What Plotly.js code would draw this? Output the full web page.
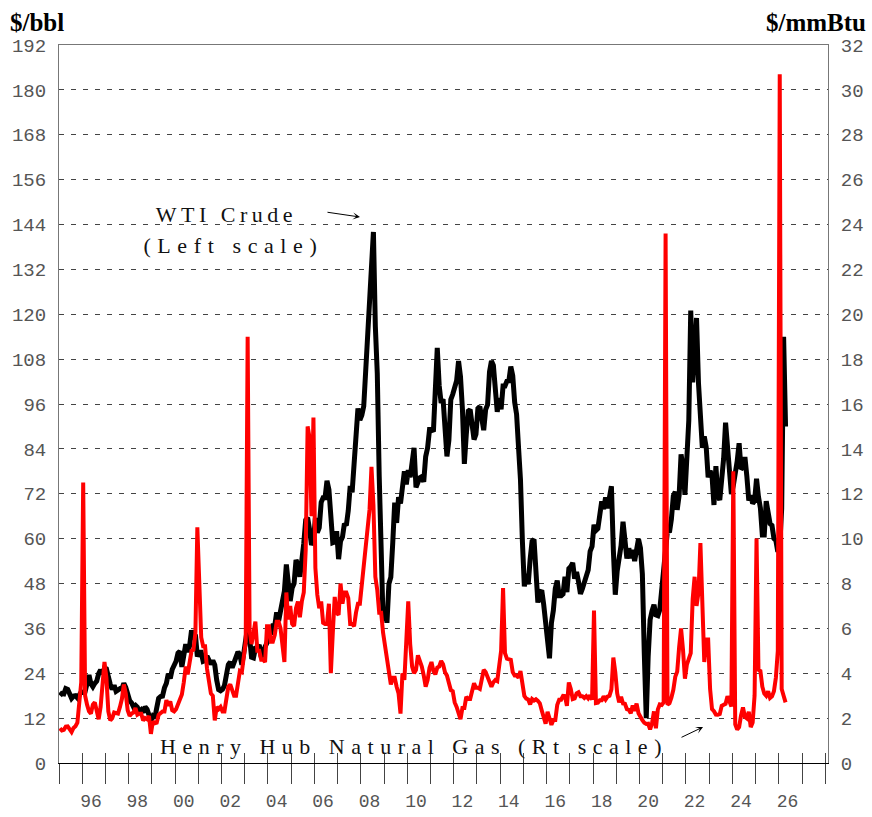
<!DOCTYPE html>
<html><head><meta charset="utf-8">
<script src="https://cdn.plot.ly/plotly-3.0.1.min.js"></script>
<style>html,body{margin:0;padding:0;background:#fff}</style>
</head><body>
<div id="chart" style="width:872px;height:817px"></div>
<script>
// Monthly series starting January 1995
const startYear = 1995;

// WTI crude, $/bbl (left scale)
const wti = [
 18.0,18.6,18.5,19.9,19.7,18.4,17.3,17.9,18.0,17.4,18.0,19.0, // 1995
 18.9,19.1,21.3,23.5,21.2,20.4,21.3,21.9,23.9,24.9,23.7,25.4, // 1996
 25.2,22.2,21.0,19.7,20.8,19.2,19.6,19.9,19.8,21.3,20.2,18.3, // 1997
 16.7,16.1,15.0,15.4,14.9,13.7,14.2,13.5,15.0,14.4,12.9,11.3, // 1998
 12.5,12.0,14.7,17.3,17.8,17.9,20.1,21.3,23.9,22.6,25.0,26.1, // 1999
 27.2,29.4,29.9,25.7,28.8,31.8,29.7,31.3,35.5,33.1,34.4,28.5, // 2000
 29.6,29.6,27.2,27.4,28.6,27.6,26.4,27.4,26.2,22.2,19.6,19.3, // 2001
 19.7,20.7,24.4,26.3,27.0,25.5,26.9,28.4,29.7,28.9,26.3,29.4, // 2002
 32.9,36.5,33.6,28.3,28.1,30.7,30.8,31.6,28.3,30.3,31.1,32.1, // 2003
 34.3,34.7,36.7,36.7,40.3,38.0,40.7,44.9,46.0,53.1,48.5,43.3, // 2004
 46.8,48.0,54.3,53.0,49.8,56.3,58.7,65.0,65.6,62.4,58.3,59.4, // 2005
 65.5,61.6,62.9,69.7,70.9,70.9,75.5,73.1,63.8,58.9,59.1,62.0, // 2006
 54.5,59.3,60.4,64.0,63.5,67.5,74.1,72.4,79.9,85.8,94.8,91.7, // 2007
 93.0,95.4,105.5,112.6,125.4,134.5,142.0,116.7,104.1,76.6,57.3,38.0, // 2008
 41.7,37.5,47.9,49.7,59.0,69.6,64.2,71.1,69.4,75.7,78.0,74.5, // 2009
 78.3,76.4,81.2,84.3,73.7,75.3,76.3,76.6,75.2,81.9,84.3,89.2, // 2010
 89.2,88.6,102.9,111.0,100.9,96.3,97.3,86.3,82.0,86.3,97.2,98.6, // 2011
 100.3,102.2,107.5,103.3,94.7,80.0,87.9,94.1,94.5,89.5,86.5,87.9, // 2012
 94.8,95.3,92.9,89.0,94.5,95.8,104.6,107.5,106.3,100.5,93.9,97.6, // 2013
 94.6,100.8,100.8,102.1,102.2,106.0,103.6,96.5,93.2,84.4,75.8,59.3, // 2014
 47.2,50.6,47.8,54.5,59.3,59.8,50.9,42.9,45.5,46.2,42.4,37.2, // 2015
 31.0,28.0,37.5,40.8,46.7,48.8,44.7,44.7,45.2,49.8,45.7,52.0, // 2016
 52.5,53.5,49.3,51.1,48.5,45.2,46.6,48.0,49.8,51.6,56.6,57.9, // 2017
 63.7,62.2,62.7,66.3,70.0,67.9,71.0,68.1,71.5,74.0,57.0,45.0, // 2018
 51.4,55.0,58.2,64.5,60.8,54.7,57.4,54.8,57.0,54.0,57.0,59.9, // 2019
 57.5,50.5,29.2,12.0,28.5,38.3,40.7,42.3,39.6,39.4,41.0,47.0, // 2020
 52.0,59.0,62.3,61.7,65.2,71.4,72.5,67.7,71.6,82.5,79.2,71.7, // 2021
 83.2,91.6,121.0,101.8,109.6,119.0,101.6,93.7,84.3,87.3,84.4,76.4, // 2022
 78.1,76.8,69.0,79.4,71.6,70.3,76.0,81.4,91.0,85.6,77.7,71.9, // 2023
 74.2,77.2,80.7,85.5,78.6,79.0,81.8,76.7,70.2,71.6,69.4,70.1, // 2024
 76.0,71.2,68.2,61.0,61.0,70.0,67.0,64.0,63.5,60.0,59.5,56.5, // 2025
 58.0,68.0,114.0,90.0 // 2026
];

// Henry Hub natural gas, $/mmBtu (right scale)
const henryHub = [
 1.55,1.45,1.48,1.62,1.63,1.53,1.38,1.56,1.64,1.80,3.00,3.60, // 1995
 12.5,3.0,2.6,2.3,2.2,2.6,2.7,2.2,1.95,2.5,3.5,4.5, // 1996
 3.8,2.3,1.9,2.0,2.25,2.2,2.2,2.5,2.85,3.5,3.1,2.35, // 1997
 2.1,2.2,2.25,2.45,2.15,2.2,2.2,1.9,2.0,1.95,2.1,1.3, // 1998
 1.85,1.77,1.8,2.15,2.25,2.3,2.3,2.8,2.55,2.75,2.35,2.3, // 1999
 2.4,2.6,2.75,3.05,3.6,4.3,3.95,4.45,5.0,5.05,5.8,10.5, // 2000
 7.7,5.6,5.2,5.2,4.2,3.7,3.1,3.0,1.9,2.5,2.4,2.5, // 2001
 2.3,2.3,3.0,3.4,3.5,3.25,3.0,3.0,3.55,4.1,4.05,4.7, // 2002
 5.4,19.0,5.9,5.3,5.8,6.3,5.0,5.0,4.6,4.6,4.5,6.1, // 2003
 6.1,5.4,5.4,5.7,6.3,6.3,6.0,5.4,4.5,7.6,6.4,7.0, // 2004
 6.2,6.1,6.9,7.2,6.5,7.2,7.6,9.5,15.0,14.5,11.0,15.4, // 2005
 8.7,7.5,6.9,7.2,6.25,6.2,6.2,7.1,4.0,5.8,7.4,6.7, // 2006
 6.6,8.0,7.1,7.6,7.6,7.35,6.2,6.2,6.1,6.7,7.1,7.1, // 2007
 7.95,8.5,9.4,10.2,11.3,13.2,11.5,8.3,7.7,6.7,6.7,5.8, // 2008
 5.25,4.5,4.0,3.5,3.8,3.8,3.4,3.1,2.2,4.0,3.7,5.35, // 2009
 7.2,5.3,4.3,4.0,4.15,4.8,4.6,4.3,3.9,3.4,3.7,4.25, // 2010
 4.5,4.1,3.95,4.25,4.3,4.55,4.4,4.05,3.9,3.6,3.25,3.2, // 2011
 2.7,2.5,2.15,1.95,2.45,2.45,2.95,2.85,2.85,3.3,3.55,3.35, // 2012
 3.35,3.3,3.8,4.15,4.05,3.85,3.6,3.4,3.6,3.7,3.65,4.25, // 2013
 5.0,7.8,4.9,4.65,4.6,4.6,4.05,3.9,3.9,3.8,4.1,3.5, // 2014
 2.99,2.87,2.83,2.61,2.85,2.78,2.84,2.77,2.66,2.34,2.09,1.75, // 2015
 2.28,1.99,1.7,1.92,1.92,2.59,2.82,2.82,2.99,2.98,2.55,3.59, // 2016
 3.3,2.85,2.88,3.1,3.15,2.98,2.98,2.9,2.98,2.88,3.01,2.82, // 2017
 6.8,2.67,2.69,2.8,2.8,2.97,2.83,2.96,3.0,3.28,4.7,4.05, // 2018
 3.1,2.7,2.95,2.65,2.64,2.4,2.37,2.22,2.56,2.33,2.65,2.22, // 2019
 2.02,1.91,1.79,1.74,1.75,1.5,1.77,2.3,1.55,2.39,2.61,2.59, // 2020
 2.7,23.6,2.6,2.66,2.91,3.26,3.84,4.07,5.16,6.0,5.05,3.76, // 2021
 4.38,4.69,4.9,7.3,8.3,7.0,7.6,9.8,7.3,4.5,5.5,5.5, // 2022
 3.3,2.4,2.31,2.16,2.15,2.18,2.55,2.58,2.64,2.98,2.71,2.52, // 2023
 13.0,1.72,1.49,1.6,2.12,2.48,2.06,1.99,2.28,1.6,1.8,3.01, // 2024
 10.0,4.15,4.1,3.4,3.1,3.0,3.2,2.9,2.97,3.2,3.8,5.0, // 2025
 30.7,3.3,3.0,2.7 // 2026
];

const xTickYears = [1995,1996,1997,1998,1999,2000,2001,2002,2003,2004,2005,2006,2007,2008,2009,2010,2011,2012,2013,2014,2015,2016,2017,2018,2019,2020,2021,2022,2023,2024,2025,2026,2027,2028];
const xLabelYears = [1996,1998,2000,2002,2004,2006,2008,2010,2012,2014,2016,2018,2020,2022,2024,2026];
const xLabelText = ['96','98','00','02','04','06','08','10','12','14','16','18','20','22','24','26'];
const leftTicks = [0,12,24,36,48,60,72,84,96,108,120,132,144,156,168,180,192];
const rightTicks = [0,2,4,6,8,10,12,14,16,18,20,22,24,26,28,30,32];

function monthX(n){ const a=[]; for(let i=0;i<n;i++) a.push(startYear + (i+0.5)/12); return a; }
const xRange = [1995, 2028.12];
const labelPos = xLabelYears.map(y => y + 0.375);
const tickFont = {family:'Liberation Mono, DejaVu Sans Mono, monospace', size:19, color:'#555'};
const xTickFont = {family:'Liberation Mono, DejaVu Sans Mono, monospace', size:18, color:'#555'};
const serif = 'Liberation Serif, Times New Roman, serif';

const traces = [
 {x: monthX(wti.length), y: wti, type:'scatter', mode:'lines', line:{color:'#000000', width:5}, xaxis:'x', yaxis:'y', hoverinfo:'skip'},
 {x: monthX(henryHub.length), y: henryHub, type:'scatter', mode:'lines', line:{color:'#ff0000', width:4}, xaxis:'x', yaxis:'y2', hoverinfo:'skip'},
 {x: [], y: [], type:'scatter', mode:'lines', xaxis:'x2', yaxis:'y', hoverinfo:'skip'},
 {x: [], y: [], type:'scatter', mode:'lines', xaxis:'x3', yaxis:'y', hoverinfo:'skip'},
 {x: [], y: [], type:'scatter', mode:'lines', xaxis:'x4', yaxis:'y', hoverinfo:'skip'}
];

const layout = {
 width:872, height:817,
 margin:{l:59, r:44, t:45, b:54},
 paper_bgcolor:'#ffffff', plot_bgcolor:'#ffffff',
 showlegend:false,
 font:{family:'Liberation Mono, monospace', color:'#555', size:18},
 xaxis:{range:xRange, tickmode:'array', tickvals:xTickYears, ticks:'outside', ticklen:20, tickcolor:'#444', tickwidth:1,
        showticklabels:false, showgrid:false, zeroline:false, showline:true, linecolor:'#000', linewidth:1},
 xaxis2:{overlaying:'x', anchor:'y', side:'bottom', range:xRange, tickmode:'array', tickvals:xTickYears, ticks:'inside', ticklen:10,
        tickcolor:'#444', tickwidth:1, showticklabels:false, showgrid:false, zeroline:false, showline:false},
 xaxis3:{overlaying:'x', anchor:'y', side:'bottom', range:xRange, tickmode:'array', tickvals:labelPos, ticktext:xLabelText, ticks:'',
        showgrid:false, zeroline:false, showline:false, ticklabelstandoff:25, tickfont:xTickFont},
 xaxis4:{overlaying:'x', anchor:'y', side:'top', range:xRange, ticks:'', showticklabels:false, showgrid:false, zeroline:false,
        showline:true, linecolor:'#777', linewidth:1},
 yaxis:{range:[0,192], tickmode:'array', tickvals:leftTicks, ticks:'', showgrid:true, gridcolor:'#444', gridwidth:1, griddash:'5px,7px',
        zeroline:false, showline:true, linecolor:'#777', linewidth:1, tickfont:tickFont, ticklabelstandoff:8},
 yaxis2:{overlaying:'y', side:'right', anchor:'x', range:[0,32], tickmode:'array', tickvals:rightTicks, ticks:'', showgrid:false,
        zeroline:false, showline:true, linecolor:'#777', linewidth:1, tickfont:tickFont, ticklabelstandoff:8},
 annotations:[
  {text:'<b>$/bbl</b>', xref:'paper', yref:'paper', x:-0.0663, y:1.032, xanchor:'left', yanchor:'middle', showarrow:false,
   font:{family:serif, size:25, color:'#000'}},
  {text:'<b>$/mmBtu</b>', xref:'paper', yref:'paper', x:1.052, y:1.032, xanchor:'right', yanchor:'middle', showarrow:false,
   font:{family:serif, size:25, color:'#000'}},
  {text:'WTI Crude', xref:'paper', yref:'paper', x:0.2172, y:0.7638, xanchor:'center', yanchor:'middle', showarrow:false,
   font:{family:serif, size:22, color:'#111'}},
  {text:'(Left scale)', xref:'paper', yref:'paper', x:0.2263, y:0.7206, xanchor:'center', yanchor:'middle', showarrow:false,
   font:{family:serif, size:22, color:'#111'}},
  {text:'Henry Hub Natural Gas (Rt scale)', xref:'paper', yref:'paper', x:0.4616, y:0.0228, xanchor:'center', yanchor:'middle', showarrow:false,
   font:{family:serif, size:22, color:'#111'}},
  {text:'', xref:'paper', yref:'paper', x:0.3914, y:0.7604, ax:-34, ay:-5, showarrow:true, arrowhead:3, arrowsize:1.2, arrowwidth:1, arrowcolor:'#000'},
  {text:'', xref:'paper', yref:'paper', x:0.8375, y:0.0501, ax:-23, ay:11, showarrow:true, arrowhead:3, arrowsize:1.2, arrowwidth:1, arrowcolor:'#000'}
 ]
};

const spacing = {'WTI Crude':'4.5px', '(Left scale)':'6.6px', 'Henry Hub Natural Gas (Rt scale)':'6.5px'};
Plotly.newPlot('chart', traces, layout, {staticPlot:true, displayModeBar:false}).then(function(gd){
  gd.querySelectorAll('.annotation-text').forEach(function(t){
    const s = spacing[t.textContent];
    if (s) t.style.letterSpacing = s;
  });
});
</script>
</body></html>
